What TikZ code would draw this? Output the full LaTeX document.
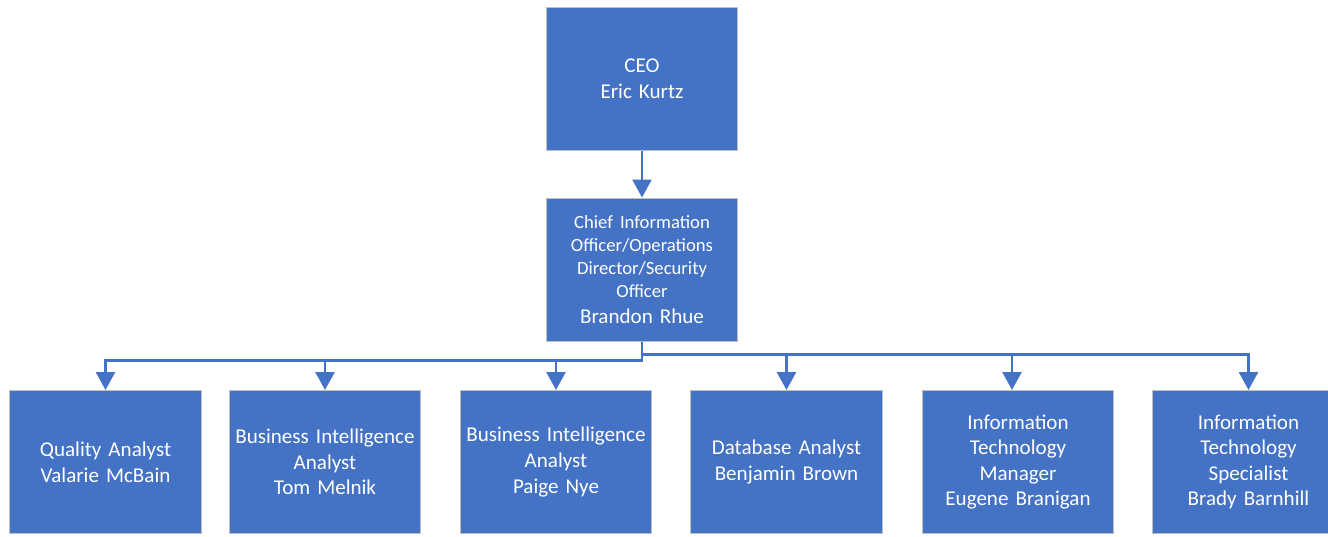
\documentclass[tikz,border=0pt]{standalone}
\usepackage{fontspec}
\setmainfont{Carlito}
\usetikzlibrary{arrows.meta}
\definecolor{boxblue}{HTML}{4472C4}
\definecolor{boxedge}{HTML}{BFBFBF}
\tikzset{
  orgbox/.style={draw=boxedge, line width=0.75pt, fill=boxblue, text=white,
    minimum width=143.5pt, minimum height=107.25pt, inner sep=0pt,
    text width=140pt, align=center,
    font=\fontsize{15.8}{19.2}\selectfont},
  conn/.style={draw=boxblue, line width=2pt,
    -{Triangle[width=14.25pt,length=13.5pt]}}
}
\begin{document}
\begin{tikzpicture}[x=0.75pt,y=-0.75pt]
\useasboundingbox (0,0) rectangle (1328,536);
\clip (0,0) rectangle (1328,536);

\node[orgbox] (ceo) at (642,79) {CEO\\Eric Kurtz};
\node[orgbox] (cio) at (642,269.5) {{\fontsize{14}{17.2}\selectfont Chief Information\\Officer/Operations\\Director/Security\\Officer\par}Brandon Rhue};

\node[orgbox] (b1) at (105.5,462) {Quality Analyst\\Valarie McBain};
\node[orgbox] (b2) at (325,462) {Business Intelligence\\Analyst\\Tom Melnik};
\node[orgbox] (b3) at (556,462) {Business Intelligence\\Analyst\\Paige Nye};
\node[orgbox] (b4) at (786.5,462) {Database Analyst\\Benjamin Brown};
\node[orgbox] (b5) at (1018,462) {Information\\Technology\\Manager\\Eugene Branigan};
\node[orgbox] (b6) at (1248.5,462) {Information\\Technology\\Specialist\\Brady Barnhill};

\coordinate (a5) at (1012,390);

\draw[conn] (ceo.south) -- (cio.north);

\draw[conn] (cio.south) -- ++(0,19) -| (b1.north);
\draw[conn] (cio.south) -- ++(0,19) -| (b2.north);
\draw[conn] (cio.south) -- ++(0,19) -| (b3.north);
\draw[conn] (cio.south) -- ++(0,13) -| (b4.north);
\draw[conn] (cio.south) -- ++(0,13) -| (a5);
\draw[conn] (cio.south) -- ++(0,13) -| (b6.north);
\end{tikzpicture}
\end{document}
